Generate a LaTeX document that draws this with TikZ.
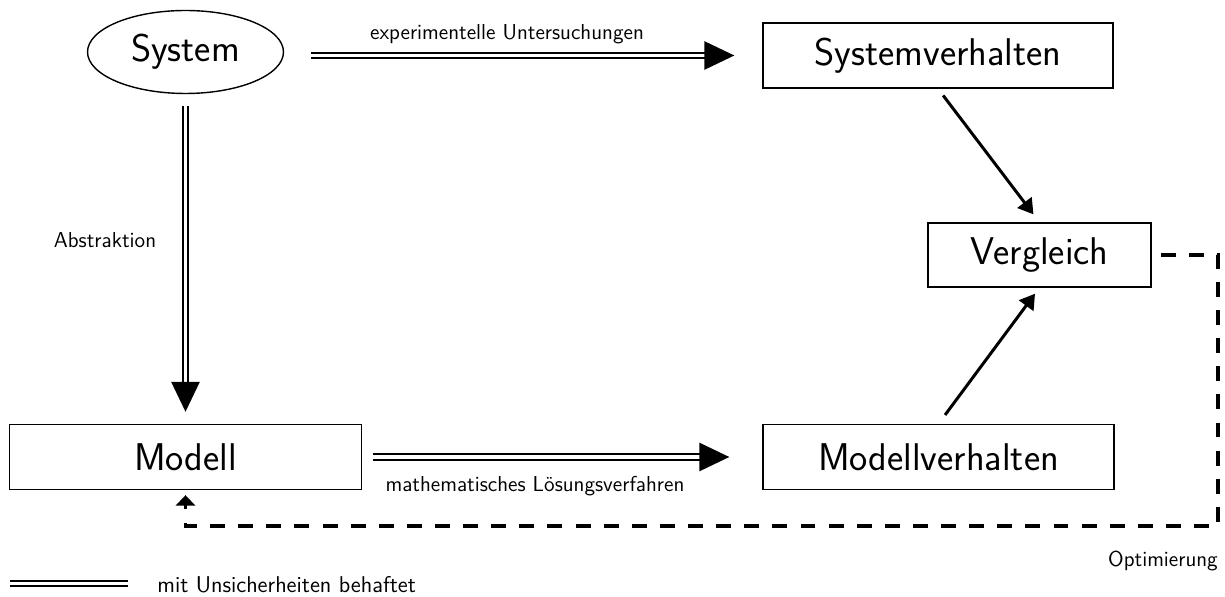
\documentclass[tikz,border=0pt]{standalone}
\usepackage{tikz}
\usetikzlibrary{shapes.geometric,arrows.meta,positioning}

\begin{document}
\begin{tikzpicture}[x=0.02cm,y=-0.02cm,
    box/.style={draw,line width=0.8pt,minimum height=1.3cm,inner sep=0pt,
      font=\sffamily\fontsize{22}{26}\selectfont},
    lbl/.style={inner sep=0pt,font=\sffamily\fontsize{12.3}{15}\selectfont},
    dblline/.style={double,line width=1.1pt,double distance=2.1pt},
    dbl/.style={dblline,-{Triangle[length=17pt,width=16pt]}},
    pfeil/.style={line width=1.7pt,-{Triangle[length=8.5pt,width=10pt]}},
    opt/.style={line width=2pt,dash pattern=on 8.5pt off 7.5pt,
      -{Triangle[length=6pt,width=11pt]}}]
  \useasboundingbox (0,0) rectangle (1225,597);
  \node[box,ellipse,minimum width=3.92cm,minimum height=1.66cm](sys) at (185.5,52){System};
  \node[box,minimum width=7cm](sv) at (938,55.5){Systemverhalten};
  \node[box,minimum width=4.46cm,minimum height=1.28cm](vg) at (1039.5,255){Vergleich};
  \node[box,minimum width=7.04cm](mod) at (185.5,457){Modell};
  \node[box,minimum width=7.02cm](mv) at (938.5,457){Modellverhalten};
  %
  \node[lbl](exp) at (507,34){experimentelle Untersuchungen};
  \node[lbl](abs) at (105,240){Abstraktion};
  \node[lbl](math) at (535,486){mathematisches Lösungsverfahren};
  \node[lbl](optlbl) at (1163,561){Optimierung};
  %
  \draw[dbl,shorten <=0.54cm,shorten >=0.56cm] (sys.east |- sv.west) -- (sv.west);
  \draw[dbl,shorten <=0.23cm,shorten >=0.24cm] (sys.south) -- (mod.north);
  \draw[dbl,shorten <=0.22cm,shorten >=0.66cm] (mod.east) -- (mv.west);
  \draw[pfeil,shorten <=0.17cm,shorten >=0.2cm] (sv.south) -- (vg.north);
  \draw[pfeil,shorten <=0.22cm,shorten >=0.15cm] (mv.north) -- (vg.south);
  \coordinate (ecke) at (1218,526);
  \draw[opt,shorten >=0.1cm] ([xshift=0.18cm]vg.east) -| (ecke) -| (mod.south);
  % Legende
  \coordinate (l1) at (10,583.5);
  \coordinate (l2) at (128,583.5);
  \draw[dblline] (l1) -- (l2);
  \node[lbl,anchor=west,font=\sffamily\fontsize{13}{15}\selectfont](leg) at (157,585){mit Unsicherheiten behaftet};
\end{tikzpicture}
\end{document}
